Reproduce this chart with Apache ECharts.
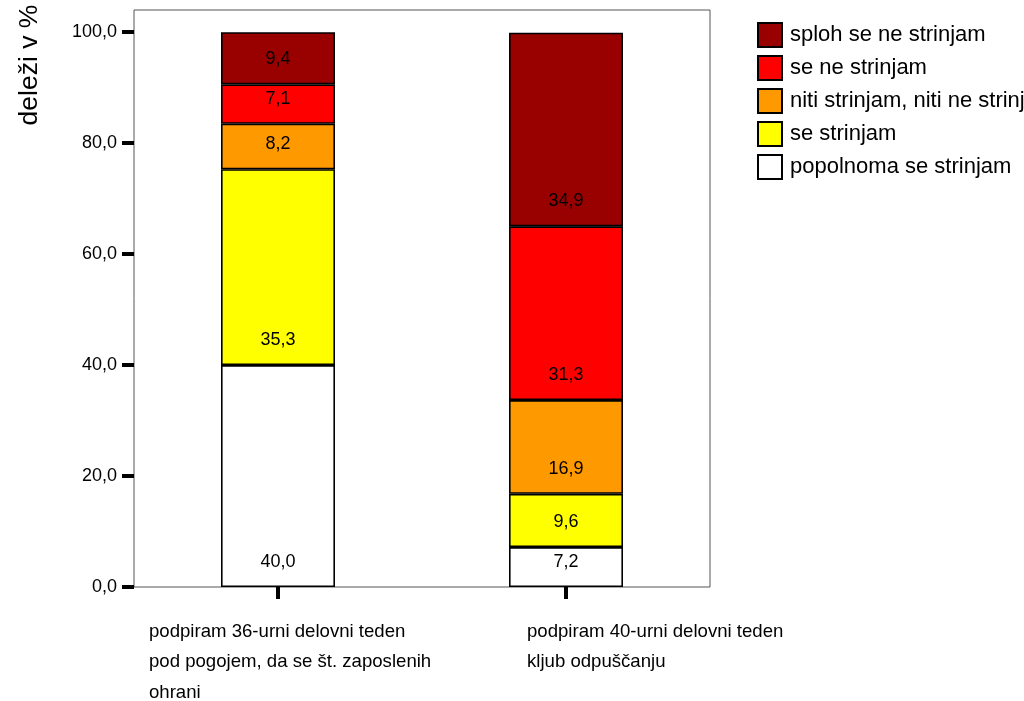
<!DOCTYPE html>
<html>
<head>
<meta charset="utf-8">
<script src="https://cdn.jsdelivr.net/npm/echarts@6/dist/echarts.min.js"></script>
<style>
  html, body { margin: 0; padding: 0; background: #fff; }
  #chart { width: 1024px; height: 701px; }
</style>
</head>
<body>
<div id="chart"></div>
<script>
// Categories (x axis), one line per array entry
const categoryLines = [
  ['podpiram 36-urni delovni teden', 'pod pogojem, da se št. zaposlenih', 'ohrani'],
  ['podpiram 40-urni delovni teden', 'kljub odpuščanju']
];
const categories = categoryLines.map(l => l.join('\n'));

// Answer levels, bottom of the stack first
const levelNames = ['popolnoma se strinjam', 'se strinjam', 'niti strinjam, niti ne strinjam', 'se ne strinjam', 'sploh se ne strinjam'];
const popolnomaSeStrinjam = [40.0, 7.2];
const seStrinjam = [35.3, 9.6];
const nitiNiti = [8.2, 16.9];
const seNeStrinjam = [7.1, 31.3];
const splohSeNeStrinjam = [9.4, 34.9];
const yTicks = [0, 20, 40, 60, 80, 100];

const levelValues = [popolnomaSeStrinjam, seStrinjam, nitiNiti, seNeStrinjam, splohSeNeStrinjam];
const levelColors = ['#ffffff', '#ffff00', '#ff9900', '#ff0000', '#990000'];

const FONT = 'Liberation Sans, Arial, sans-serif';
const fmt = v => Number(v).toFixed(1).replace('.', ',');

const chart = echarts.init(document.getElementById('chart'), null, { renderer: 'canvas' });

const series = levelNames.map((name, i) => ({
  name,
  type: 'bar',
  stack: 'total',
  barWidth: 114,
  data: levelValues[i],
  itemStyle: { color: levelColors[i], borderColor: '#000', borderWidth: 1.6 },
  label: {
    show: true,
    position: 'insideBottom',
    distance: 16,
    color: '#000',
    fontFamily: FONT,
    fontSize: 18,
    formatter: p => fmt(p.value)
  },
  emphasis: { disabled: true }
}));

chart.setOption({
  animation: false,
  backgroundColor: '#fff',
  textStyle: { fontFamily: FONT },
  grid: {
    left: 134, top: 10, width: 576, height: 577,
    show: true, borderColor: '#555', borderWidth: 1, backgroundColor: '#fff',
    containLabel: false
  },
  legend: {
    orient: 'vertical',
    left: 757,
    top: 22,
    padding: 0,
    itemWidth: 24,
    itemHeight: 24,
    itemGap: 7,
    icon: 'rect',
    data: levelNames.slice().reverse(),
    textStyle: { fontFamily: FONT, fontSize: 22, color: '#000', padding: [0, 0, 0, 3] },
    selectedMode: false
  },
  xAxis: {
    type: 'category',
    data: categories,
    axisLine: { show: false },
    axisTick: { show: true, alignWithLabel: true, length: 12, lineStyle: { color: '#000', width: 4 } },
    axisLabel: { show: false },
    splitLine: { show: false }
  },
  yAxis: {
    type: 'value',
    min: 0,
    max: 104,
    interval: 20,
    axisLine: { show: false },
    axisTick: { show: true, length: 12, customValues: yTicks, lineStyle: { color: '#000', width: 4 } },
    axisLabel: {
      customValues: yTicks,
      margin: 17,
      fontFamily: FONT,
      fontSize: 18,
      color: '#000',
      formatter: v => fmt(v)
    },
    splitLine: { show: false }
  },
  series
});

// Axis title and multi-line category captions, placed from the axis scale
const labelShift = [-129, -39];
const graphics = [{
  type: 'text',
  x: 30,
  y: 65,
  rotation: Math.PI / 2,
  style: {
    text: 'deleži v %',
    fontFamily: FONT,
    fontSize: 26.5,
    fill: '#000',
    align: 'center',
    verticalAlign: 'middle'
  }
}];
categories.forEach((c, i) => {
  const cx = chart.convertToPixel({ xAxisIndex: 0 }, i);
  graphics.push({
    type: 'text',
    x: cx + labelShift[i],
    y: 616.5,
    style: {
      text: c,
      fontFamily: FONT,
      fontSize: 18.6,
      lineHeight: 30.5,
      fill: '#000',
      align: 'left',
      verticalAlign: 'top'
    }
  });
});
chart.setOption({ graphic: graphics });
</script>
</body>
</html>
